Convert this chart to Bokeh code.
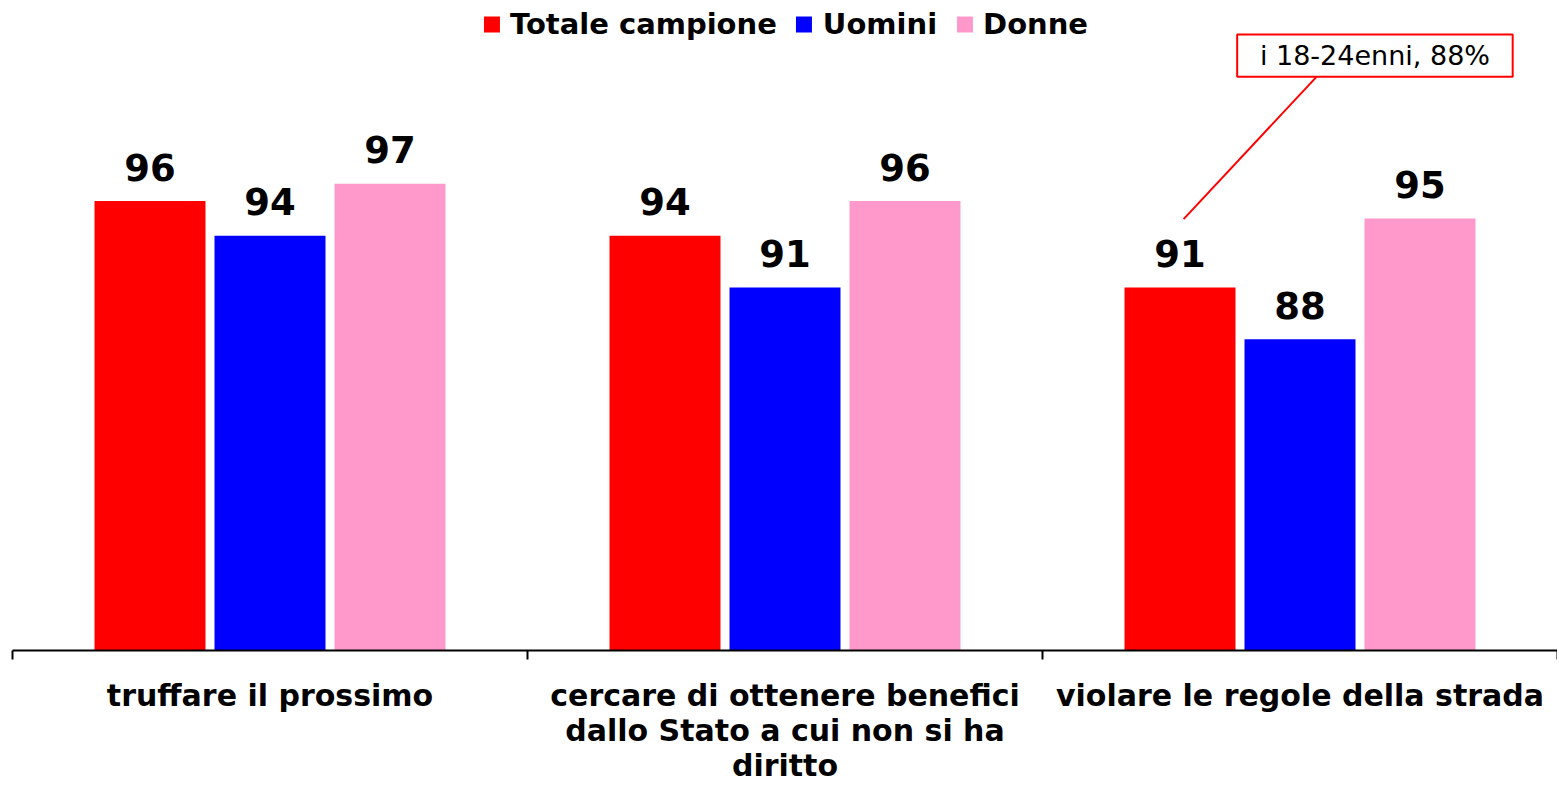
from bokeh.plotting import figure
from bokeh.models import Range1d, FixedTicker, Legend, LegendItem, Label, BoxAnnotation
from bokeh.core.properties import value
from bokeh.embed import file_html
from bokeh.resources import INLINE

categories = [
    "truffare il prossimo",
    "cercare di ottenere benefici\ndallo Stato a cui non si ha\ndiritto",
    "violare le regole della strada",
]
series_names = ["Totale campione", "Uomini", "Donne"]
totale = [96, 94, 91]
uomini = [94, 91, 88]
donne = [97, 96, 95]
colors = ["#FF0000", "#0000FF", "#FF99CC"]
annotation_text = "i 18-24enni, 88%"

FONT = "DejaVu Sans"

p = figure(width=1557, height=785, output_backend="svg", toolbar_location=None,
           x_range=Range1d(0, 3), y_range=Range1d(70, 107.2),
           min_border_left=12, min_border_right=0, min_border_top=7, min_border_bottom=10)
p.outline_line_color = None
p.xgrid.visible = False
p.ygrid.visible = False
p.yaxis.visible = False
p.background_fill_color = "white"
p.border_fill_color = "white"

offsets = [-0.233, 0.0, 0.233]
bar_w = 0.2155
items = []
for s, (name, vals, col, off) in enumerate(zip(series_names, [totale, uomini, donne], colors, offsets)):
    xs = [i + 0.5 + off for i in range(len(categories))]
    r = p.vbar(x=xs, top=vals, bottom=70, width=bar_w, fill_color=col, line_color=None)
    items.append(LegendItem(label=name, renderers=[r]))
    p.text(x=xs, y=vals, text=[str(v) for v in vals], text_align="center",
           text_baseline="alphabetic", y_offset=-34,
           text_font=value(FONT), text_font_style="bold", text_font_size="37px",
           text_color="black")

legend = Legend(items=items, location="top_center", orientation="horizontal",
                glyph_width=20, glyph_height=20, label_standoff=9, spacing=17,
                padding=0, margin=0, border_line_color=None, background_fill_alpha=0,
                label_text_font=FONT, label_text_font_style="bold",
                label_text_font_size="29px", label_height=30, label_text_color="black")
p.add_layout(legend)

ax = p.xaxis[0]
ax.ticker = FixedTicker(ticks=[i + 0.5 for i in range(len(categories))],
                        minor_ticks=list(range(len(categories) + 1)))
ax.major_label_overrides = {i + 0.5: c for i, c in enumerate(categories)}
ax.major_tick_line_color = None
ax.major_tick_out = 0
ax.major_tick_in = 0
ax.minor_tick_out = 9
ax.minor_tick_in = 0
ax.minor_tick_line_color = "black"
ax.minor_tick_line_width = 2
ax.axis_line_color = "black"
ax.axis_line_width = 2
ax.major_label_standoff = 18
ax.major_label_text_font = FONT
ax.major_label_text_font_style = "bold"
ax.major_label_text_font_size = "30px"
ax.major_label_text_line_height = 1.0
ax.major_label_text_color = "black"

# annotation callout
box = BoxAnnotation(left=2.378, right=2.913, bottom=103.2, top=105.64,
                    fill_color="white", fill_alpha=1.0, line_color="#FF0000",
                    line_alpha=1.0, line_width=2)
p.add_layout(box)
p.segment(x0=[2.5325], y0=[103.2], x1=[2.274], y1=[94.96], line_color="#FF0000", line_width=2)
p.add_layout(Label(x=(2.378 + 2.913) / 2, y=(103.2 + 105.64) / 2, text=annotation_text,
                   text_align="center", text_baseline="middle", text_font=FONT,
                   text_font_size="27px", text_color="black"))

open("out.html", "w").write(file_html(p, INLINE))
